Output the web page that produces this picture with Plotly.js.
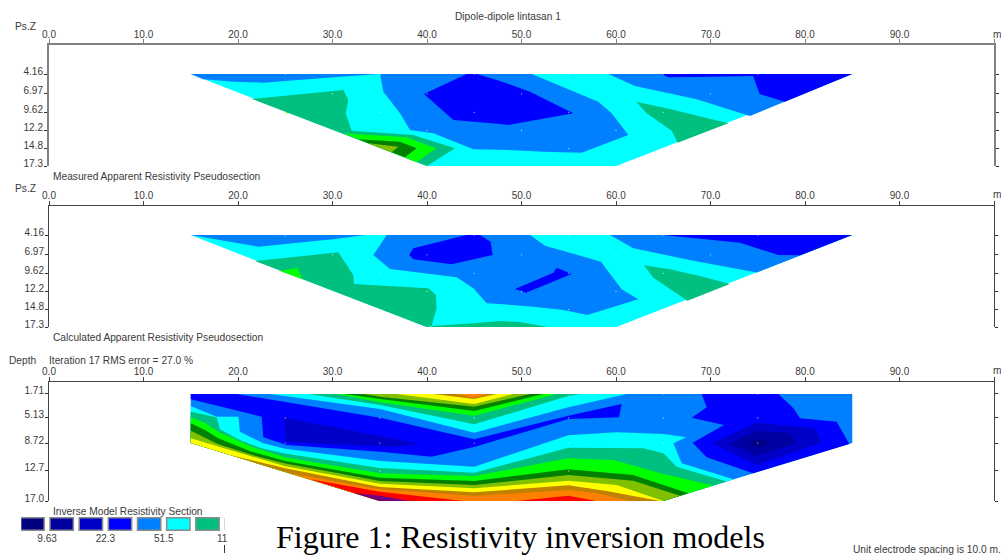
<!DOCTYPE html>
<html><head><meta charset="utf-8">
<script src="https://cdn.plot.ly/plotly-3.0.1.min.js"></script>
<style>html,body{margin:0;padding:0;background:#fff;overflow:hidden}</style></head>
<body><div id="chart" style="width:1001px;height:555px"></div>
<script>
// ---- tick labels ----
const distVals=[0,10,20,30,40,50,60,70,80,90,100];
const distText=['0.0','10.0','20.0','30.0','40.0','50.0','60.0','70.0','80.0','90.0',''];
const pseudoVals=[4.16,6.97,9.62,12.2,14.8,17.3];
const pseudoText=['4.16','6.97','9.62','12.2','14.8','17.3'];
const depthVals=[1.71,5.13,8.72,12.7,17.0];
const depthText=['1.71','5.13','8.72','12.7','17.0'];
// ---- colour scale ----
const NAVY='#000080',D2='#0000A0',D3='#0000C8',DBLUE='#0000FF',BLUE='#0080FF',CYAN='#00FFFF',TEAL='#00C080',
 BRIGHT='#00FF00',DKGREEN='#008000',OLIVE='#80C000',YELLOW='#FFFF00',BROWN='#C08000',ORANGE='#FF8000',RED='#FF0000',PURPLE='#700080';
const legendColors=[NAVY,D2,D3,DBLUE,BLUE,CYAN,TEAL];
const legendIdx=[0,1,2,3,4,5,6];
const legendTickVals=[0.5,2.5,4.5,6.5];
const legendTickText=['9.63','22.3','51.5','11'];

// ---- Panel 1: measured pseudosection (x in m, y pseudo depth) ----
const pseudoShapeX=[15,85,60,40], p1ShapeY=[4.16,4.16,17.3,17.3];
const p1BlueX=[15,16.33,19.5,22.68,30.09,35.03,35.38,37.14,38.2,40.67,44.9,47.72,52.31,56.37,61.3,59.54,58.13,54.78,51.08];
const p1BlueY=[4.16,4.9,5.24,5.38,4.62,4.16,6.67,9.76,12.14,12.62,14.9,14.95,15.24,15.38,12.86,9.76,8.1,6.19,4.16];
const p1BlueRX=[59.19,62,68.53,74.18,85], p1BlueRY=[4.16,5.86,7.76,10.14,4.16];
const p1DarkRX=[64.83,65.54,69.95,74.5,75.2,77.87,85], p1DarkRY=[4.16,4.62,4.52,4.43,7,8.1,4.16];
const p1DarkCX=[39.68,44.2,45.26,47.72,50.9,55.48,48.6,47.72,42.79,41.38], p1DarkCY=[7,4.16,4.16,5.14,6.67,9.76,11.43,11.29,10.71,9.05];
const p1TealX=[21.45,31.15,31.68,31.4,32.03,38.55,42.96,40], p1TealY=[7.71,6.43,7.86,9.76,12.24,12.86,14.76,17.3];
const p1TealRX=[62.12,65.71,71.89,66.53,65.89,63.24], p1TealRY=[8.1,9.14,11.19,13.95,12.24,9.76];
const p1BrightX=[31.15,37.85,40.95,38.9], p1BrightY=[12.62,13.19,14.76,16.76];
const p1BrightTX=[24.97,25.33,25.33], p1BrightTY=[9.52,9.62,9.81];
const p1DkX=[32.73,37.14,38.9,37.67], p1DkY=[13.48,13.81,14.76,16.05];
const p1OliveX=[33.79,36.97,36.26], p1OliveY=[14.05,14.52,15.33];
const p1DotsX=[25,35,45,55,65,75,30,40,50,60,70,25,35,45,55,65,40,50,60,55];
const p1DotsY=[4.16,4.16,4.16,4.16,4.16,4.16,6.97,6.97,6.97,6.97,6.97,9.62,9.62,9.62,9.62,9.62,12.2,12.2,12.2,14.8];

// ---- Panel 2: calculated pseudosection ----
const p2BlueLX=[15,22.15,30.09,33.44], p2BlueLY=[4.16,5.81,4.76,4.16];
const p2BlueX=[35.73,34.32,36.08,43.14,44.9,46.31,47.72,51.25,54.43,56.97,62.36,60.6,58.41,52.49,50.9];
const p2BlueY=[4.16,7,9,10.19,11.76,13.9,14,14.38,14.86,15.57,13.33,11.9,7.95,5.67,4.16];
const p2BlueRX=[59.37,61.83,68.18,74.9,85], p2BlueRY=[4.16,6.05,7.81,9.5,4.16];
const p2DarkRX=[65,68.18,73.12,77.18,79.5,85], p2DarkRY=[4.16,4.62,5.24,7,7.05,4.16];
const p2DarkCX=[38.13,38.55,44.2,45.6,46.74,46.95,42.6,38.55], p2DarkCY=[7,6.05,4.16,4.16,5.1,7,8.33,7.62];
const p2DarkSX=[49.31,53.37,53.72,55.31,50.48], p2DarkSY=[11.86,9.52,8.81,9.71,12.38];
const p2TealX=[21.8,30.62,32.2,32.28,40.14,40.95,41.02,40.49,40], p2TealY=[7.86,6.62,9.86,11.14,11.76,12.71,14.62,17.14,17.3];
const p2TealBX=[40.49,40.49,44.9,47.72,49.84,52.84], p2TealBY=[17.3,17.14,16.76,16.43,16.57,17.3];
const p2TealRX=[62.96,65.71,68.89,72.06,67.55,63.95], p2TealRY=[8.48,9.05,10,11.14,13.52,10.24];
const p2BrightX=[24.37,26.28,26.81], p2BrightY=[9.24,8.86,10.48];

// ---- Panel 3: inverse model section ----
const invShapeX=[15,85,85,65,35,15], invShapeY=[1.71,1.71,8.72,17,17,8.72];
// upper stack: bottom edge of each colour band, closed along the top of the section
const uCyanX=[23.39,35.03,45.01,54.96,61.13], uCyanY=[1.71,3.86,7.24,3.62,1.71];
const uTealX=[27.44,35.03,45.01,54.96,56.37], uTealY=[1.71,3.29,6.05,2,1.71];
const uBrightX=[30.44,35.03,45.01,53.72], uBrightY=[1.71,2.9,4.81,1.71];
const uDkX=[31.15,35.03,45.01,52.31], uDkY=[1.71,2.43,4.14,1.71];
const uOliveX=[33.26,35.03,45.01,50.9], uOliveY=[1.71,2.1,3.52,1.71];
const uYellowX=[36.79,45.01,49.14], uYellowY=[1.71,3.14,1.71];
const uBrownX=[40.67,45.01,47.37], uBrownY=[1.71,2.43,1.71];
const uOrangeX=[43.14,45.01,46.49], uOrangeY=[1.71,2.24,1.71];
// lower stack: top edge of each colour band, closed along the bottom of the section
const lCyanX=[15,17.74,20.04,20.2,22.68,25,35.03,45.01,54.96,60.07,65.01,67.41,66.07,66.95,72.42];
const lCyanY=[3.43,4.95,4.95,7.1,8.76,9.55,11.3,12.1,7.62,7.19,7.43,7.9,8.76,11.62,13.9];
const lTealX=[15,17.74,18.1,20.2,22.5,24.97,35.03,45.01,54.96,62.89,65.01,66.42,71.71];
const lTealY=[4.24,5.05,6.76,8.29,9.48,10.2,12.3,12.95,9.38,9.48,10.19,12.1,14.2];
const lBrightX=[15,16.5,17.92,21.45,25,35.03,45.01,54.96,59.72,65.01,70.3];
const lBrightY=[5.05,5.81,7.1,9.24,10.8,13.05,13.43,10.9,11.14,13.14,14.8];
const lDkX=[15,16.5,17.92,21.45,25,35.03,45.01,54.96,61.83,67.65];
const lDkY=[5.9,6.86,8.05,9.95,11.3,13.67,14.14,12.48,13.29,15.9];
const lOliveX=[15,17.92,21.45,25,35.03,45.01,54.96,61.83,66.77];
const lOliveY=[6.95,8.9,10.4,11.65,14.14,14.71,13.29,14.1,16.24];
const lYellowX=[15,25.01,35.03,45.01,54.96,60.07,65.01];
const lYellowY=[8.05,12.05,14.52,15.19,14.1,14.71,17];
const lBrownX=[19.15,25.01,35.03,45.01,54.96,59.01,64.66];
const lBrownY=[10.44,12.33,15,15.76,14.76,15.57,17];
const lOrangeX=[25.5,35.03,45.01,54.96,57.95,61.48];
const lOrangeY=[13.05,15.33,16.29,15.43,15.9,17];
const lRedX=[27.62,35.03,43.84], lRedY=[13.9,15.67,17];
const lRedBX=[49.49,54.96,57.95], lRedBY=[17,16.24,17];
const lPurpleX=[32.2,35.03,38.2,35], lPurpleY=[15.81,16.25,17,17];
// low-resistivity bodies
const mDarkX=[15,19.86,35.03,45.01,54.96,60.6,60.32,54.96,45.08,40.49,35.03,25.15,22.68,22.5,15];
const mDarkY=[1.71,1.71,5.1,8.19,4.81,3.14,5.05,5.29,9.24,10.67,9.95,9,7.9,4.95,2.48];
const mD3X=[24.87,39.26,36.44,25.08], mD3Y=[5.05,8.81,9.24,8.62];
const rDarkX=[69.07,69.59,68,71.43,68.11,69.59,74.5,84.69,83.35,79.47,78.77,77.18];
const rDarkY=[1.71,3.62,5.1,6.14,8.67,10.76,13.05,8.85,5.67,5.19,3.76,1.71];
const rD3X=[70.12,74.88,81.06,81.76,74.88], rD3Y=[8.76,5.81,6.62,8.67,11.86];
const rD2X=[72.06,74.88,78.41,79.05,74.88], rD2Y=[8.76,7,7.33,8.67,10.57];
const rNavyX=[74,75.06,76.23,74.88], rNavyY=[8.76,8.19,8.67,9.33];
const p3DotsX=[35,45,55,65,75,25,35,45,55,65,75,25,35,45,55,65,75,35,55];
const p3DotsY=[1.71,1.71,1.71,1.71,1.71,5.13,5.13,5.13,5.13,5.13,5.13,8.72,8.72,8.72,8.72,8.72,8.72,12.7,12.7];

// ---- build traces ----
const traces=[];
function poly(ax,color,xs,ys){traces.push({type:'scatter',mode:'lines',x:xs,y:ys,fill:'toself',fillcolor:color,
  line:{width:0,color:color},xaxis:'x'+ax,yaxis:'y'+ax,hoverinfo:'skip',showlegend:false});}
function low(color,xs,ys){ // close a lower band along the floor of the section
  const X=xs.slice(),Y=ys.slice();
  if(X[X.length-1]>invShapeX[3]){X.push(invShapeX[3]);Y.push(invShapeY[3]);}
  X.push(invShapeX[4]);Y.push(invShapeY[4]);
  if(X[0]===invShapeX[5]){X.push(invShapeX[5]);Y.push(invShapeY[5]);}
  poly(3,color,X,Y);
}
function dots(ax,xs,ys){traces.push({type:'scatter',mode:'markers',x:xs,y:ys,marker:{color:'#fff',size:1.2,opacity:0.75,line:{width:0}},
  xaxis:'x'+ax,yaxis:'y'+ax,hoverinfo:'skip',showlegend:false});}
// panel 1
poly('',CYAN,pseudoShapeX,p1ShapeY);
[[BLUE,p1BlueX,p1BlueY],[BLUE,p1BlueRX,p1BlueRY],[DBLUE,p1DarkRX,p1DarkRY],[DBLUE,p1DarkCX,p1DarkCY],[TEAL,p1TealX,p1TealY],
 [TEAL,p1TealRX,p1TealRY],[BRIGHT,p1BrightX,p1BrightY],[BRIGHT,p1BrightTX,p1BrightTY],[DKGREEN,p1DkX,p1DkY],[OLIVE,p1OliveX,p1OliveY]]
 .forEach(a=>poly('',a[0],a[1],a[2]));
dots('',p1DotsX,p1DotsY);
// panel 2
const p2ShapeY=p1ShapeY;
poly(2,CYAN,pseudoShapeX,p2ShapeY);
[[BLUE,p2BlueLX,p2BlueLY],[BLUE,p2BlueX,p2BlueY],[BLUE,p2BlueRX,p2BlueRY],[DBLUE,p2DarkRX,p2DarkRY],[DBLUE,p2DarkCX,p2DarkCY],[DBLUE,p2DarkSX,p2DarkSY],
 [TEAL,p2TealX,p2TealY],[TEAL,p2TealBX,p2TealBY],[TEAL,p2TealRX,p2TealRY],[BRIGHT,p2BrightX,p2BrightY]]
 .forEach(a=>poly(2,a[0],a[1],a[2]));
dots(2,p1DotsX,p1DotsY);
// panel 3
poly(3,BLUE,invShapeX,invShapeY);
[[CYAN,uCyanX,uCyanY],[TEAL,uTealX,uTealY],[BRIGHT,uBrightX,uBrightY],[DKGREEN,uDkX,uDkY],[OLIVE,uOliveX,uOliveY],[YELLOW,uYellowX,uYellowY],[BROWN,uBrownX,uBrownY],[ORANGE,uOrangeX,uOrangeY]]
 .forEach(a=>poly(3,a[0],a[1],a[2]));
[[CYAN,lCyanX,lCyanY],[TEAL,lTealX,lTealY],[BRIGHT,lBrightX,lBrightY],[DKGREEN,lDkX,lDkY],[OLIVE,lOliveX,lOliveY],[YELLOW,lYellowX,lYellowY],[BROWN,lBrownX,lBrownY],[ORANGE,lOrangeX,lOrangeY]]
 .forEach(a=>low(a[0],a[1],a[2]));
poly(3,RED,lRedX.concat([35]),lRedY.concat([17]));
poly(3,RED,lRedBX,lRedBY);
poly(3,PURPLE,lPurpleX,lPurpleY);
[[DBLUE,mDarkX,mDarkY],[D3,mD3X,mD3Y],[DBLUE,rDarkX,rDarkY],[D3,rD3X,rD3Y],[D2,rD2X,rD2Y],[NAVY,rNavyX,rNavyY]]
 .forEach(a=>poly(3,a[0],a[1],a[2]));
dots(3,p3DotsX,p3DotsY);
// colour key
traces.push({type:'bar',x:legendIdx,y:legendIdx.map(()=>1),width:0.8,marker:{color:legendColors,line:{color:'#8a8a8a',width:1.5}},
  xaxis:'x4',yaxis:'y4',hoverinfo:'skip',showlegend:false});

// ---- layout ----
const W=1001,H=555,FONT='Liberation Sans',TXT='#3a3a3a';
const fy=p=>1-p/H;
const xAx=(anchor,lc,lw,off)=>({domain:[49/W,994/W],range:[0,100],anchor:anchor,side:'top',tickmode:'array',tickvals:distVals,ticktext:distText,
  ticks:'outside',ticklen:4,tickcolor:lc,tickwidth:1,showline:true,linecolor:lc,linewidth:lw,showgrid:false,zeroline:false,ticklabelstandoff:off,
  tickfont:{family:FONT,size:10,color:TXT}});
const yAx=(anchor,top,bot,maxv,vals,txt,lc,lw)=>({domain:[fy(bot),fy(top)],range:[maxv,0],anchor:anchor,tickmode:'array',tickvals:vals,ticktext:txt,
  ticks:'outside',ticklen:3,tickcolor:'#333',tickwidth:1,showline:true,mirror:'ticks',linecolor:lc,linewidth:lw,showgrid:false,zeroline:false,
  ticklabelshift:3,ticklabelstandoff:-1,tickfont:{family:FONT,size:10,color:TXT}});
const note=(text,px,py,extra)=>Object.assign({text:text,xref:'paper',yref:'paper',x:px/W,y:fy(py),xanchor:'left',yanchor:'middle',showarrow:false,
  font:{family:FONT,size:10.2,color:TXT},borderpad:0},extra||{});
const layout={width:W,height:H,autosize:false,margin:{l:0,r:0,t:0,b:0},paper_bgcolor:'#fff',plot_bgcolor:'rgba(0,0,0,0)',showlegend:false,
  xaxis:xAx('y','#808080',2,-3),yaxis:yAx('x',45,166.1,17.3,pseudoVals,pseudoText,'#808080',2),
  xaxis2:xAx('y2','#444',1,-2),yaxis2:yAx('x2',206,327.1,17.3,pseudoVals,pseudoText,'#444',1),
  xaxis3:xAx('y3','#444',1,-2),yaxis3:yAx('x3',382,501,17,depthVals,depthText,'#444',1),
  xaxis4:{domain:[21/W,225/W],range:[-0.394,6.6],anchor:'y4',side:'bottom',tickmode:'array',tickvals:legendTickVals,ticktext:legendTickText,
    ticks:'',showline:false,showgrid:false,zeroline:false,tickfont:{family:FONT,size:10,color:TXT}},
  yaxis4:{domain:[fy(531),fy(517)],range:[-0.05,1.05],anchor:'x4',visible:false},
  annotations:[
    note('Dipole-dipole lintasan 1',454,16),
    note('Ps.Z',14,27),note('m',992,34),
    note('Measured Apparent Resistivity Pseudosection',52,176),
    note('Ps.Z',14,188),note('m',992,195),
    note('Calculated Apparent Resistivity Pseudosection',52,337),
    note('Depth',8,360),note('Iteration 17 RMS error = 27.0 %',48,360),note('m',992,371),
    note('Inverse Model Resistivity Section',52,511),
    note('Unit electrode spacing is 10.0 m.',852,549),
    note('Figure 1: Resistivity inversion models',275,536.5,{font:{family:'Liberation Serif',size:32,color:'#000'}})
  ],
  shapes:[
    {type:'line',xref:'paper',yref:'paper',x0:224.5/W,x1:224.5/W,y0:fy(518),y1:fy(530),line:{color:'#d8d8d8',width:1}},
    {type:'line',xref:'paper',yref:'paper',x0:224.5/W,x1:224.5/W,y0:fy(545),y1:fy(553),line:{color:'#333',width:1}}
  ]};
Plotly.newPlot('chart',traces,layout,{staticPlot:true,displayModeBar:false});
</script></body></html>
